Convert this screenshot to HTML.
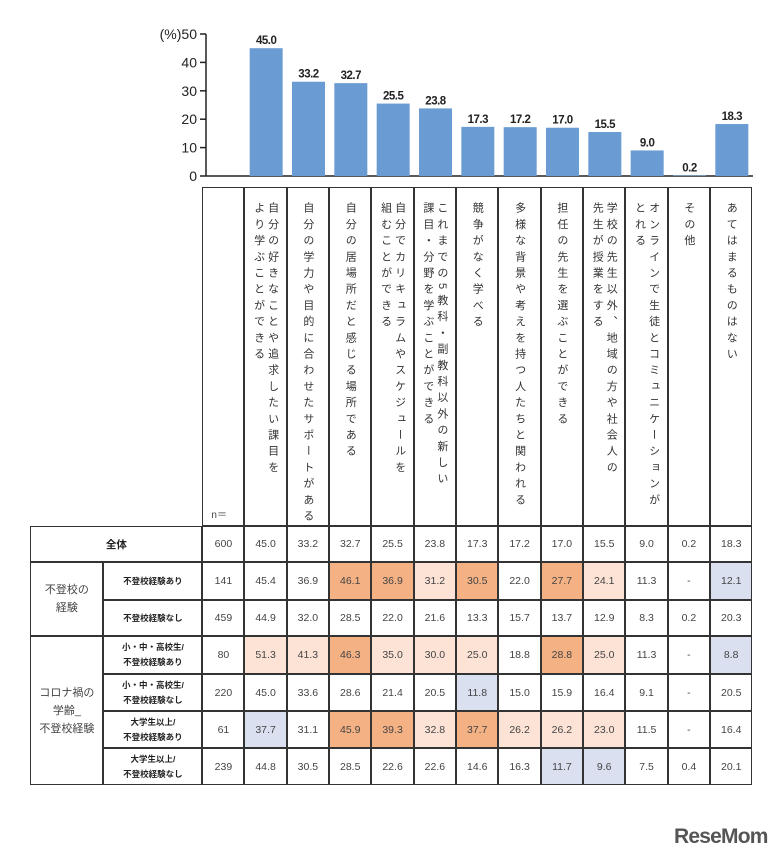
<!DOCTYPE html>
<html><head><meta charset="utf-8">
<style>
body{margin:0;background:#fff;width:784px;height:862px;position:relative;overflow:hidden;font-family:"Liberation Sans","Noto Sans CJK JP",sans-serif;color:#333}
.a{position:absolute;box-sizing:border-box}
.vt{writing-mode:vertical-rl;font-size:11px;letter-spacing:5.2px;line-height:14px;color:#333;white-space:nowrap;text-align:start}
.cell{display:flex;align-items:center;justify-content:center;font-size:10.5px;color:#444;text-align:center}
.bold{font-weight:bold;color:#222}
</style></head><body>
<svg id="chart" class="a" style="left:0;top:0" width="784" height="190"></svg>
<div id="table"></div>
<div class="a" style="left:674px;top:825px;font-size:21px;font-weight:bold;color:#555;letter-spacing:-0.8px;font-family:'Liberation Sans',sans-serif">ReseMom</div>
<script>
const categories=["自分の好きなことや追求したい課目を<br>より学ぶことができる","自分の学力や目的に合わせたサポートがある","自分の居場所だと感じる場所である","自分でカリキュラムやスケジュールを<br>組むことができる","これまでの5教科・副教科以外の新しい<br>課目・分野を学ぶことができる","競争がなく学べる","多様な背景や考えを持つ人たちと関われる","担任の先生を選ぶことができる","学校の先生以外、地域の方や社会人の<br>先生が授業をする","オンラインで生徒とコミュニケーションが<br>とれる","その他","あてはまるものはない"];
const totals=[45.0,33.2,32.7,25.5,23.8,17.3,17.2,17.0,15.5,9.0,0.2,18.3];
const yTicks=[0,10,20,30,40,50];
const rowLabels=["全体","不登校経験あり","不登校経験なし","小・中・高校生/<br>不登校経験あり","小・中・高校生/<br>不登校経験なし","大学生以上/<br>不登校経験あり","大学生以上/<br>不登校経験なし"];
const rowN=[600,141,459,80,220,61,239];
const rowValues=[
["45.0","33.2","32.7","25.5","23.8","17.3","17.2","17.0","15.5","9.0","0.2","18.3"],
["45.4","36.9","46.1","36.9","31.2","30.5","22.0","27.7","24.1","11.3","-","12.1"],
["44.9","32.0","28.5","22.0","21.6","13.3","15.7","13.7","12.9","8.3","0.2","20.3"],
["51.3","41.3","46.3","35.0","30.0","25.0","18.8","28.8","25.0","11.3","-","8.8"],
["45.0","33.6","28.6","21.4","20.5","11.8","15.0","15.9","16.4","9.1","-","20.5"],
["37.7","31.1","45.9","39.3","32.8","37.7","26.2","26.2","23.0","11.5","-","16.4"],
["44.8","30.5","28.5","22.6","22.6","14.6","16.3","11.7","9.6","7.5","0.4","20.1"]];
const rowShade=[
"nnnnnnnnnnnn",
"nnDDLDnDLnnB",
"nnnnnnnnnnnn",
"LLDLLLnDLnnB",
"nnnnnBnnnnnn",
"BnDDLDLLLnnn",
"nnnnnnnBBnnn"];
const shadeColor={n:"#fff",D:"#f4b184",L:"#fce3d6",B:"#dbe0f0"};
const x0=245,colW=(753-245)/12;
const yBase=176,yTop=34;
function yS(v){return yBase-(v/50)*(yBase-yTop);}
function xC(i){return x0+colW*i+colW/2;}
const svg=document.getElementById('chart');
const NS="http://www.w3.org/2000/svg";
function mk(t,at){const e=document.createElementNS(NS,t);for(const k in at)e.setAttribute(k,at[k]);svg.appendChild(e);return e;}
let ax=mk('line',{x1:206,y1:yTop,x2:206,y2:yBase+0.5,stroke:'#222','stroke-width':1.5});


let xa=mk('line',{x1:206,y1:yBase,x2:753,y2:yBase,stroke:'#222','stroke-width':1.5});


yTicks.forEach(t=>{
 const tk=mk('line',{x1:200,y1:yS(t),x2:206,y2:yS(t),stroke:'#222','stroke-width':1.5});
 
 
 const tx=mk('text',{x:197,y:yS(t)+5,'text-anchor':'end','font-size':14,fill:'#222'});
 tx.textContent=(t===50?'(%)':'')+t;
 
 
});
totals.forEach((v,i)=>{
 const bw=33;
 const r=mk('rect',{x:xC(i)-bw/2,y:yS(v),width:bw,height:yBase-yS(v),fill:'#6a9bd2'});
 
 
 const t=mk('text',{x:xC(i),y:yS(v)-4,'text-anchor':'middle','font-size':11.5,'font-weight':'bold',fill:'#222','letter-spacing':'-0.5'});
 t.textContent=v.toFixed(1);
 
 
});
const tb=document.getElementById('table');
function box(l,t,w,h,html,cls,bg){const d=document.createElement('div');d.className='a cell '+(cls||'');d.style.cssText=`left:${l}px;top:${t}px;width:${w}px;height:${h}px;border:1.2px solid #333;margin:-0.6px;background:${bg||'#fff'}`;d.innerHTML=html;tb.appendChild(d);return d;}
const hTop=188,hBot=527;
const nb=box(203,hTop,42,hBot-hTop,'<span style="position:absolute;bottom:4px;left:8px;font-size:10px">n＝</span>');


categories.forEach((c,i)=>{
 const d=box(x0+colW*i,hTop,colW,hBot-hTop,'<div class="vt" style="position:absolute;top:14px;left:50%;transform:translateX(-50%)">'+c+'</div>');
 d.style.textAlign='left';
 
 
});
const rowY=[527,563,601,637,675,712,749,786];
const g0=box(31,527,172,36,'全体','bold');


const g1=box(31,563,73,74,'不登校の<br>経験');
g1.style.fontSize='11px';g1.style.lineHeight='18px';


const g2=box(31,637,73,149,'コロナ禍の<br>学齢_<br>不登校経験');
g2.style.fontSize='11px';g2.style.lineHeight='18px';


rowLabels.forEach((lab,r)=>{
 const y=rowY[r],h=rowY[r+1]-y;
 if(r>0){const d=box(104,y,99,h,lab,'bold');d.style.fontSize='8.5px';d.style.lineHeight='15px';
 
 }
 const n=box(203,y,42,h,rowN[r]);
 
 
 rowValues[r].forEach((v,i)=>{
  const c=box(x0+colW*i,y,colW,h,v,'',shadeColor[rowShade[r][i]]);
  
  
 });
});
</script>
</body></html>
